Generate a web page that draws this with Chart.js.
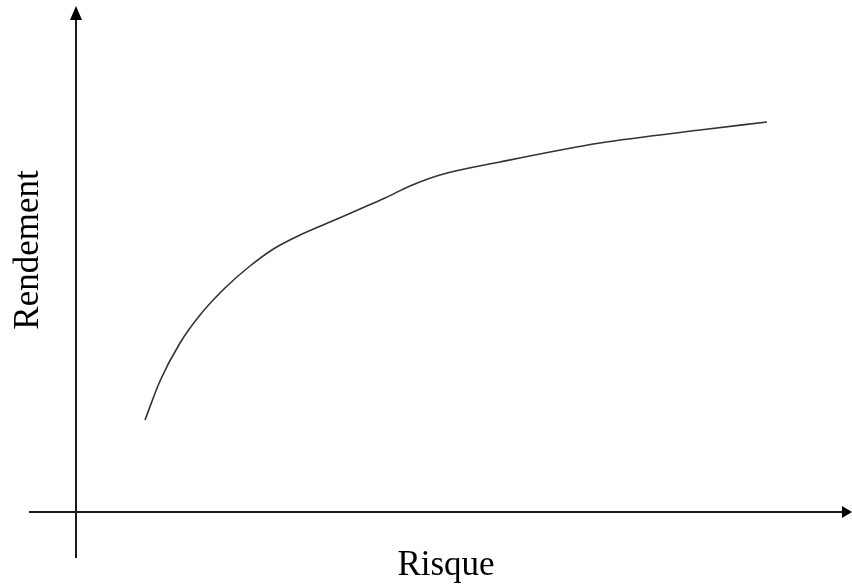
<!DOCTYPE html>
<html>
<head>
<meta charset="utf-8">
<script src="https://cdn.jsdelivr.net/npm/chart.js@4"></script>
<style>
  html, body { margin: 0; padding: 0; background: #fff; }
  #wrap { width: 852px; height: 586px; }
</style>
</head>
<body>
<div id="wrap"><canvas id="riskChart" width="852" height="586"></canvas></div>
<script>
// Risk / return curve (arbitrary units, origin where the axes cross)
const risk = [6.9, 8.4, 10.4, 12.4, 14.9, 17.4, 19.9, 22.4, 25.4, 28.4, 30.9, 33.4, 36.4, 42.4, 52.4, 62.4, 69.1];
const rendement = [9.2, 13.1, 16.9, 19.7, 22.4, 24.6, 26.4, 27.7, 29.0, 30.3, 31.4, 32.6, 33.7, 35.0, 36.9, 38.2, 39.0];
const xLabel = 'Risque';
const yLabel = 'Rendement';
const xRange = [-4.7, 77.6];
const yRange = [-4.6, 50.6];

// draws the two axes with arrowheads plus the axis labels
const axesPlugin = {
  id: 'axes',
  beforeDatasetsDraw(chart) {
    const { ctx, scales: { x, y } } = chart;
    const x0 = x.getPixelForValue(0);
    const y0 = y.getPixelForValue(0);
    const left = x.getPixelForValue(xRange[0]);
    const right = x.getPixelForValue(xRange[1]);
    const top = y.getPixelForValue(yRange[1]);
    const bottom = y.getPixelForValue(yRange[0]);

    ctx.save();
    ctx.strokeStyle = '#1a1a1a';
    ctx.fillStyle = '#000';
    ctx.lineWidth = 2;

    ctx.beginPath();
    ctx.moveTo(left, y0);
    ctx.lineTo(right - 8, y0);
    ctx.moveTo(x0, bottom);
    ctx.lineTo(x0, top + 12);
    ctx.stroke();

    // arrow heads
    ctx.beginPath();
    ctx.moveTo(right, y0);
    ctx.lineTo(right - 10, y0 - 6);
    ctx.lineTo(right - 10, y0 + 6);
    ctx.closePath();
    ctx.fill();

    ctx.beginPath();
    ctx.moveTo(x0, top);
    ctx.lineTo(x0 - 6, top + 14);
    ctx.lineTo(x0 + 6, top + 14);
    ctx.closePath();
    ctx.fill();

    ctx.font = '35px "Liberation Serif", "Times New Roman", serif';
    ctx.textAlign = 'center';
    ctx.textBaseline = 'alphabetic';
    ctx.fillText(xLabel, 446, 575);

    ctx.translate(38, 250);
    ctx.rotate(-Math.PI / 2);
    ctx.fillText(yLabel, 0, 0);
    ctx.restore();
  }
};

const ctx = document.getElementById('riskChart').getContext('2d');
window.riskChartInstance = new Chart(ctx, {
  type: 'scatter',
  data: {
    datasets: [{
      data: risk.map((r, i) => ({ x: r, y: rendement[i] })),
      showLine: true,
      borderColor: '#333',
      borderWidth: 1.6,
      pointRadius: 0,
      cubicInterpolationMode: 'monotone',
      fill: false
    }]
  },
  options: {
    responsive: false,
    animation: false,
    layout: { padding: { left: 29, right: 0, top: 6, bottom: 28 } },
    plugins: { legend: { display: false }, tooltip: { enabled: false } },
    scales: {
      x: { type: 'linear', min: xRange[0], max: xRange[1], display: false },
      y: { type: 'linear', min: yRange[0], max: yRange[1], display: false }
    }
  },
  plugins: [axesPlugin]
});
</script>
</body>
</html>
